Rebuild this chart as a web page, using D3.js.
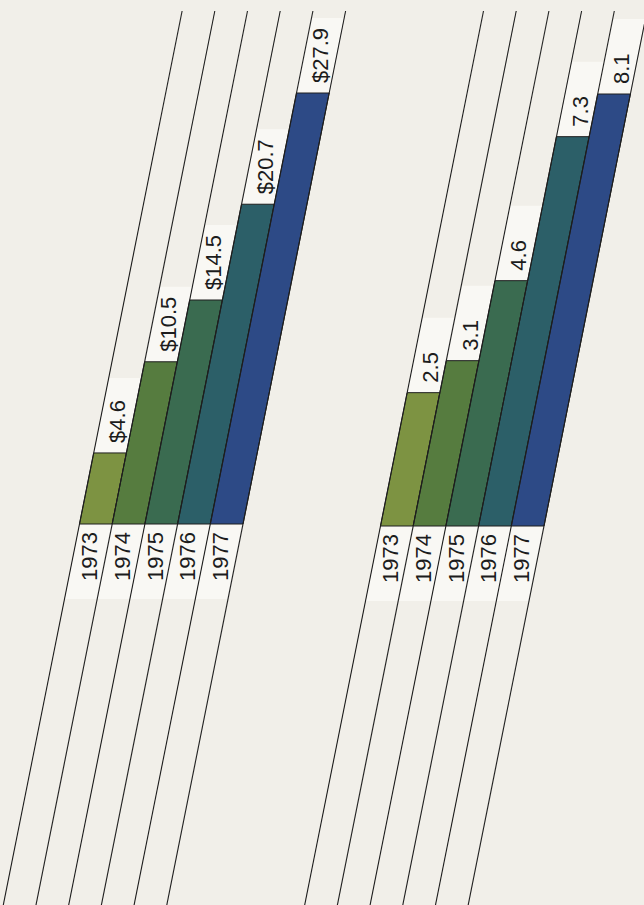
<!DOCTYPE html>
<html>
<head>
<meta charset="utf-8">
<script src="https://cdn.jsdelivr.net/npm/d3@7"></script>
<style>
  html, body { margin: 0; padding: 0; background: #f1efe9; }
  svg { display: block; }
</style>
</head>
<body>
<script>
// Categories and series
const years = ["1973", "1974", "1975", "1976", "1977"];
const dollarValues = [4.6, 10.5, 14.5, 20.7, 27.9];
const dollarLabels = ["$4.6", "$10.5", "$14.5", "$20.7", "$27.9"];
const countValues = [2.5, 3.1, 4.6, 7.3, 8.1];
const countLabels = ["2.5", "3.1", "4.6", "7.3", "8.1"];
const yearColors = ["#7d9342", "#567c3f", "#3a6b50", "#2c5f68", "#2d4a86"];

const W = 644, H = 905;
const slope = 0.2;          // horizontal drift per pixel of height
const topY = 11;            // where the guide lines start
const boxLen = 75;          // length of the label boxes along the lines

const svg = d3.select("body").append("svg")
  .attr("width", W).attr("height", H);

svg.append("rect").attr("width", W).attr("height", H).attr("fill", "#f1efe9");

const panels = [
  { values: dollarValues, labels: dollarLabels, x0: 79.5, baseline: 524, top: 93 },
  { values: countValues,  labels: countLabels,  x0: 380.5, baseline: 526, top: 94 }
];

const bandW = 32.7;

panels.forEach(p => {
  const x = d3.scaleBand().domain(years)
    .range([p.x0, p.x0 + bandW * years.length]).padding(0);
  const y = d3.scaleLinear().domain([0, d3.max(p.values)]).range([p.baseline, p.top]);

  // shift a baseline x-position along the slanted line to height yy
  const sx = (xb, yy) => xb + (p.baseline - yy) * slope;
  const quad = (xl, xr, y1, y2) =>
    `M${sx(xl, y1)},${y1}L${sx(xr, y1)},${y1}L${sx(xr, y2)},${y2}L${sx(xl, y2)},${y2}Z`;

  const g = svg.append("g");
  const data = years.map((yr, i) => ({
    year: yr, value: p.values[i], label: p.labels[i], color: yearColors[i]
  }));

  // pale label boxes above each bar and below the baseline
  g.selectAll("path.vbox").data(data).join("path")
    .attr("class", "vbox")
    .attr("d", d => {
      const yt = y(d.value);
      return quad(x(d.year), x(d.year) + x.bandwidth(), Math.max(topY, yt - boxLen), yt);
    })
    .attr("fill", "#f9f8f4");

  g.selectAll("path.ybox").data(data).join("path")
    .attr("class", "ybox")
    .attr("d", d => quad(x(d.year), x(d.year) + x.bandwidth(), p.baseline, p.baseline + boxLen))
    .attr("fill", "#f9f8f4");

  // slanted bars
  g.selectAll("path.bar").data(data).join("path")
    .attr("class", "bar")
    .attr("d", d => quad(x(d.year), x(d.year) + x.bandwidth(), p.baseline, y(d.value)))
    .attr("fill", d => d.color)
    .attr("stroke", "#1e1e1e")
    .attr("stroke-width", 1)
    .attr("stroke-linejoin", "miter");

  // guide lines at every band edge
  const edges = years.map(yr => x(yr)).concat([x.range()[1]]);
  g.selectAll("line.guide").data(edges).join("line")
    .attr("class", "guide")
    .attr("x1", d => sx(d, topY)).attr("y1", topY)
    .attr("x2", d => sx(d, H + 5)).attr("y2", H + 5)
    .attr("stroke", "#1e1e1e")
    .attr("stroke-width", 1.1);

  const font = "'Liberation Sans', Arial, Helvetica, sans-serif";

  // value labels, reading upward from the bar top
  g.selectAll("text.val").data(data).join("text")
    .attr("class", "val")
    .attr("transform", d => {
      const ys = y(d.value) - 10;
      const ym = ys - 25;
      const xc = sx(x(d.year) + x.bandwidth() / 2, ym);
      return `translate(${xc},${ys}) rotate(-90)`;
    })
    .attr("dy", "0.36em")
    .attr("text-anchor", "start")
    .attr("font-family", font)
    .attr("font-size", 22)
    .attr("fill", "#1c1c1c")
    .text(d => d.label);

  // year labels, ending just under the baseline
  g.selectAll("text.yr").data(data).join("text")
    .attr("class", "yr")
    .attr("transform", d => {
      const ye = p.baseline + 8;
      const ym = ye + 25;
      const xc = sx(x(d.year) + x.bandwidth() / 2, ym);
      return `translate(${xc},${ye}) rotate(-90)`;
    })
    .attr("dy", "0.36em")
    .attr("text-anchor", "end")
    .attr("font-family", font)
    .attr("font-size", 22)
    .attr("fill", "#1c1c1c")
    .text(d => d.year);
});
</script>
</body>
</html>
